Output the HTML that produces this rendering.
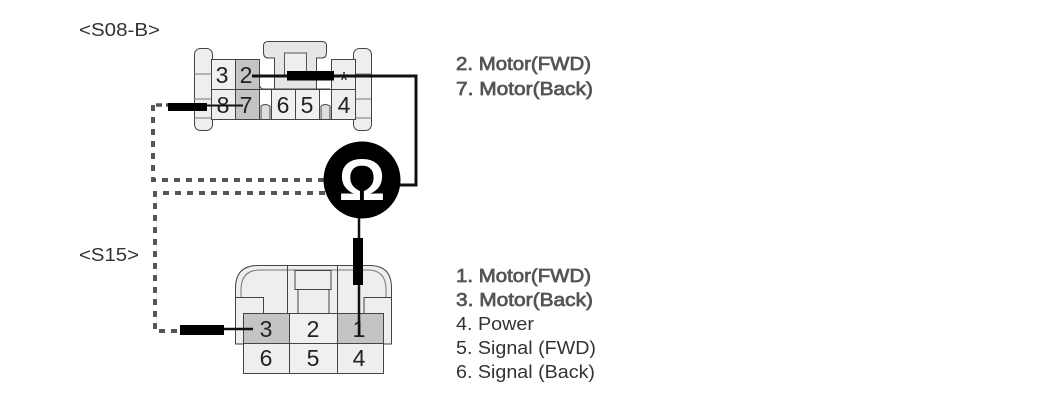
<!DOCTYPE html>
<html><head><meta charset="utf-8"><style>
html,body{margin:0;padding:0;background:#fff;width:1050px;height:406px;overflow:hidden}
svg{display:block;filter:blur(0.35px)}
text{font-family:"Liberation Sans",sans-serif}
.n{font-size:23px;fill:#222;text-anchor:middle}
.l{font-size:18px;fill:#333}
.b{font-size:18px;fill:#555;stroke:#555;stroke-width:.7px}
</style></head><body>
<svg width="1050" height="406" viewBox="0 0 1050 406" xmlns="http://www.w3.org/2000/svg">
<text x="79" y="36" class="l" textLength="81" lengthAdjust="spacingAndGlyphs">&lt;S08-B&gt;</text>
<text x="79" y="261" class="l" textLength="60" lengthAdjust="spacingAndGlyphs">&lt;S15&gt;</text>

<!-- upper connector -->
<g stroke="#444" stroke-width="1" fill="#eee">
<rect x="194.500" y="48.500" width="18" height="82" rx="6"/>
<rect x="353.500" y="48.500" width="18" height="82" rx="6"/>
<path d="M194 74H212M194 99H212M194 118H212M353 74H371M353 99H371M353 118H371" fill="none" stroke="#777"/>
<path d="M274.500 89V58H268Q263.500 58 263.500 52V46Q263.500 41.500 268 41.500H322Q326.500 41.500 326.500 46V52Q326.500 58 322 58H316.500V89" fill="#e6e6e6"/>
<rect x="284.500" y="53" width="22" height="22" fill="#eee" stroke="#555"/>
<rect x="211.500" y="59.500" width="24" height="30" fill="#f0f0f0"/>
<rect x="235.500" y="59.500" width="24" height="30" fill="#c4c4c4"/>
<rect x="331.500" y="59.500" width="24" height="30" fill="#eee"/>
<rect x="211.500" y="89.500" width="24" height="30" fill="#eee"/>
<rect x="235.500" y="89.500" width="24" height="30" fill="#c4c4c4"/>
<rect x="259.500" y="89.500" width="12" height="30" fill="#fff"/>
<rect x="271.500" y="89.500" width="24" height="30" fill="#f0f0f0"/>
<rect x="295.500" y="89.500" width="24" height="30" fill="#f0f0f0"/>
<rect x="319.500" y="89.500" width="12" height="30" fill="#fff"/>
<rect x="331.500" y="89.500" width="24" height="30" fill="#eee"/>
<path d="M261 119V106Q265 103 270 106V119M321 119V106Q325 103 330 106V119" fill="#ddd"/>
<path d="M259.500 76V85Q260 89 264 89H330" fill="none"/>
</g>
<text x="222" y="83" class="n">3</text>
<text x="246" y="83" class="n">2</text>
<text x="223" y="113" class="n">8</text>
<text x="246" y="113" class="n">7</text>
<text x="283" y="113" class="n">6</text>
<text x="307" y="113" class="n">5</text>
<text x="344" y="113" class="n">4</text>
<text x="344" y="88" class="n">*</text>

<!-- lower connector -->
<g stroke="#444" stroke-width="1" fill="#eee">
<path d="M235.500 344V288Q235.500 265.500 258 265.500H370Q391.500 265.500 391.500 288V344Z"/>
<path d="M241 297V290Q241 270 260 270H368Q386 270 386 290V297" fill="none" stroke="#777"/>
<path d="M235.500 297.500H263.500V314M391.500 297.500H364V314M287.500 266V314M337.500 266V314" fill="none"/>
<rect x="295" y="270.500" width="36" height="19" fill="#eee"/>
<path d="M298 290V314M329 290V314" fill="none"/>
<rect x="243.500" y="313.500" width="46" height="30" fill="#c4c4c4"/>
<rect x="289.500" y="313.500" width="48" height="30" fill="#f0f0f0"/>
<rect x="337.500" y="313.500" width="46" height="30" fill="#c4c4c4"/>
<rect x="243.500" y="343.500" width="46" height="30" fill="#eee"/>
<rect x="289.500" y="343.500" width="48" height="30" fill="#f0f0f0"/>
<rect x="337.500" y="343.500" width="46" height="30" fill="#eee"/>
</g>
<text x="266" y="337" class="n">3</text>
<text x="313" y="337" class="n">2</text>
<text x="359" y="337" class="n">1</text>
<text x="266" y="366" class="n">6</text>
<text x="313" y="366" class="n">5</text>
<text x="359" y="366" class="n">4</text>

<!-- wires -->
<path d="M153 105V180H325" fill="none" stroke="#555" stroke-width="4" stroke-dasharray="6 6"/>
<path d="M156 105H168" fill="none" stroke="#555" stroke-width="3.500" stroke-dasharray="6 4"/>
<path d="M325 193H155V331H182" fill="none" stroke="#555" stroke-width="4" stroke-dasharray="6 6"/>
<path d="M207 105.500H243" stroke="#111" stroke-width="2" fill="none"/>
<rect x="168" y="103" width="39" height="8" fill="#000"/>
<path d="M252 76H416V185H395" stroke="#111" stroke-width="3" fill="none"/>
<rect x="287" y="71" width="47" height="9.500" fill="#000"/>
<path d="M224 329H253" stroke="#111" stroke-width="2.500" fill="none"/>
<rect x="180" y="325" width="44" height="10" fill="#000"/>
<path d="M359 215V336" stroke="#111" stroke-width="2.500" fill="none"/>
<rect x="353" y="238" width="10" height="47" fill="#000"/>

<circle cx="362" cy="180" r="38.500" fill="#000"/>
<text x="362" y="200" text-anchor="middle" style="font-size:58px;font-weight:bold" fill="#fff">Ω</text>

<!-- labels -->
<text x="456" y="70" class="b" textLength="135" lengthAdjust="spacingAndGlyphs">2. Motor(FWD)</text>
<text x="456" y="95" class="b" textLength="137" lengthAdjust="spacingAndGlyphs">7. Motor(Back)</text>
<text x="456" y="282" class="b" textLength="135" lengthAdjust="spacingAndGlyphs">1. Motor(FWD)</text>
<text x="456" y="306" class="b" textLength="137" lengthAdjust="spacingAndGlyphs">3. Motor(Back)</text>
<text x="456" y="330" class="l" textLength="78" lengthAdjust="spacingAndGlyphs">4. Power</text>
<text x="456" y="354" class="l" textLength="140" lengthAdjust="spacingAndGlyphs">5. Signal (FWD)</text>
<text x="456" y="378" class="l" textLength="139" lengthAdjust="spacingAndGlyphs">6. Signal (Back)</text>
</svg>
</body></html>
